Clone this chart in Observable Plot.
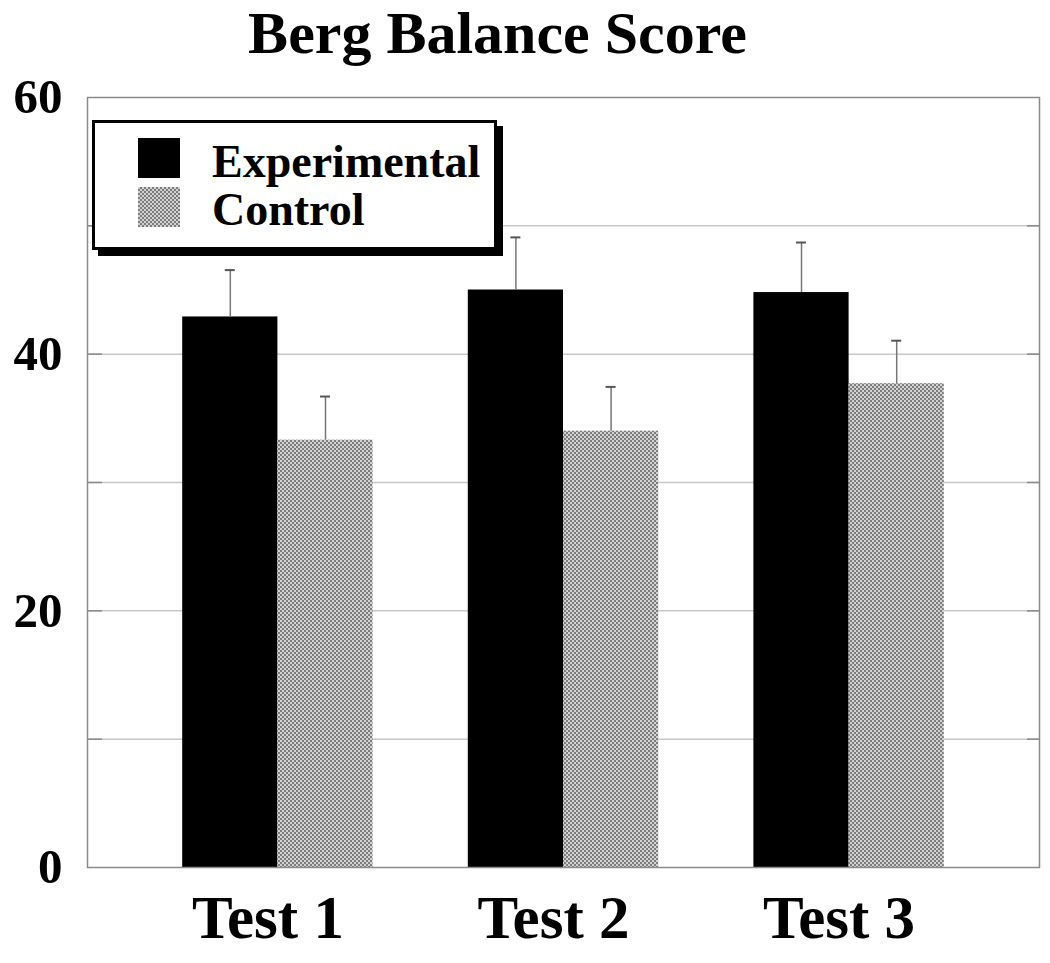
<!DOCTYPE html>
<html><head><meta charset="utf-8">
<script src="https://cdn.jsdelivr.net/npm/d3@7"></script>
<script src="https://cdn.jsdelivr.net/npm/@observablehq/plot@0.6"></script>
<style>
body{margin:0;background:#fff;font-family:"Liberation Serif","Times New Roman",serif;}
#wrap{position:relative;width:1050px;height:963px;overflow:hidden;}
#title{position:absolute;left:0;top:2px;width:995px;text-align:center;font-weight:bold;font-size:60px;line-height:62px;height:62px;}
#chart{position:absolute;left:0;top:62px;}
#legend{position:absolute;left:92px;top:120px;width:399px;height:124px;border:3px solid #000;background:#fff;box-shadow:6px 6px 0 #000;}
.sw{position:absolute;left:43px;width:42px;height:40px;}
.lt{position:absolute;left:117px;font-weight:bold;font-size:46px;line-height:45px;white-space:nowrap;}
</style>
</head><body>
<svg width="0" height="0" style="position:absolute">
  <defs>
    <pattern id="checker" patternUnits="userSpaceOnUse" width="4" height="4">
      <rect width="4" height="4" fill="#d2d2d2"></rect>
      <rect width="2" height="2" fill="#7c7c7c"></rect>
      <rect x="2" y="2" width="2" height="2" fill="#7c7c7c"></rect>
    </pattern>
  </defs>
</svg>
<div id="wrap">
  <div id="title">Berg Balance Score</div>
  <div id="chart"></div>
  <div id="legend"></div>
</div>
<script>
// ---- data ----
const tests = ["Test 1", "Test 2", "Test 3"];
const groups = ["Experimental", "Control"];
const experimental = [42.9, 45.0, 44.8];
const experimentalErr = [3.65, 4.1, 3.9];
const control = [33.3, 34.0, 37.7];
const controlErr = [3.4, 3.45, 3.35];
const yTicks = [0, 20, 40, 60];
const gridVals = [10, 20, 30, 40, 50];

const expRows = tests.map((t, i) => ({test: t, group: groups[0], value: experimental[i], err: experimentalErr[i]}));
const ctrlRows = tests.map((t, i) => ({test: t, group: groups[1], value: control[i], err: controlErr[i]}));

// ---- layout ----
const W = 1050, H = 901;
const mL = 87, mR = 11, mT = 35, mB = 96;
const plotW = W - mL - mR;
const pad = 1 / 3;
const step = plotW / (tests.length - pad + 2 * pad);
const bw = step * (1 - pad);
const half = bw / 2;
const cap = 5;

const chart = Plot.plot({
  width: W,
  height: H,
  marginLeft: mL,
  marginRight: mR,
  marginTop: mT,
  marginBottom: mB,
  style: {fontFamily: "Liberation Serif, Times New Roman, serif", fontSize: "49px", fontWeight: "bold", background: "transparent", overflow: "visible", color: "#000"},
  x: {domain: tests, type: "band", padding: pad, round: false, axis: null},
  y: {domain: [0, 60], ticks: yTicks, tickSize: 0, tickPadding: 25, label: null, tickFormat: d => String(d)},
  marks: [
    Plot.ruleY(gridVals, {stroke: "#c8c8c8", strokeWidth: 1.5}),
    Plot.ruleY(gridVals, {stroke: "#8a8a8a", strokeWidth: 1.5, insetRight: plotW - 15}),
    Plot.ruleY(gridVals, {stroke: "#8a8a8a", strokeWidth: 1.5, insetLeft: plotW - 12}),
    Plot.barY(expRows, {x: "test", y: "value", fill: "#000", insetRight: half}),
    Plot.barY(ctrlRows, {x: "test", y: "value", fill: "url(#checker)", insetLeft: half}),
    Plot.ruleX(expRows, {x: "test", y1: "value", y2: d => d.value + d.err, dx: -half / 2, stroke: "#777", strokeWidth: 1.5}),
    Plot.ruleX(ctrlRows, {x: "test", y1: "value", y2: d => d.value + d.err, dx: half / 2, stroke: "#777", strokeWidth: 1.5}),
    Plot.tickY(expRows, {x: "test", y: d => d.value + d.err, insetLeft: half / 2 - cap, insetRight: bw - half / 2 - cap, stroke: "#555", strokeWidth: 2}),
    Plot.tickY(ctrlRows, {x: "test", y: d => d.value + d.err, insetLeft: half + half / 2 - cap, insetRight: half / 2 - cap, stroke: "#555", strokeWidth: 2}),
    Plot.frame({stroke: "#8a8a8a", strokeWidth: 1.5}),
    Plot.text(tests, {x: d => d, frameAnchor: "bottom", dy: 70, dx: -10, fontSize: 61, fontWeight: "bold", fill: "#000"})
  ]
});
document.getElementById("chart").appendChild(chart);

// ---- legend ----
const legend = document.getElementById("legend");
const swFills = ["#000", "repeating-conic-gradient(#7c7c7c 0 25%, #d2d2d2 0 50%) 0 0/4px 4px"];
const swTops = [15, 64];
const txtTops = [16, 64];
groups.forEach((g, i) => {
  const sw = document.createElement("div");
  sw.className = "sw";
  sw.style.top = swTops[i] + "px";
  sw.style.background = swFills[i];
  legend.appendChild(sw);
  const t = document.createElement("div");
  t.className = "lt";
  t.style.top = txtTops[i] + "px";
  t.textContent = g;
  legend.appendChild(t);
});
</script>
</body></html>
